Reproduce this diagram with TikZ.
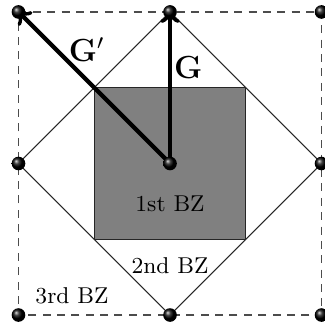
\documentclass[tikz,border=0pt]{standalone}
\usetikzlibrary{arrows}
\begin{document}
\begin{tikzpicture}[
  every node/.style={font=\fontsize{8.6}{10}\selectfont},
  site/.style={circle,inner sep=0pt,minimum size=0.18cm,shading=ball,ball color=black},
  bzline/.style={line width=0.4pt,black!85},
  dashline/.style={dashed,dash pattern=on 3pt off 2.4pt,black!70,line width=0.5pt},
  vec/.style={line width=1.6pt,->,>=to}
]
\useasboundingbox (-2.244,-2.158) rectangle (2.033,2.158);
\coordinate (O) at (0,0);
\fill[gray] (-1,-1) rectangle (1,1);
\draw[bzline] (-1,-1) rectangle (1,1);
\coordinate (T) at (0,2);
\coordinate (B) at (0,-2);
\coordinate (L) at (-2,0);
\coordinate (R) at (2,0);
\coordinate (TL) at (-2,2);
\coordinate (TR) at (2,2);
\coordinate (BL) at (-2,-2);
\coordinate (BR) at (2,-2);
\draw[bzline] (T) -- (R) -- (B) -- (L) -- cycle;
\draw[dashline] (TL) -- (TR) -- (BR) -- (BL) -- cycle;
\draw[vec] (O) -- (T);
\draw[vec] (O) -- (TL);
\node (nO) at (O) [site] {};
\node (nT) at (T) [site] {};
\node (nB) at (B) [site] {};
\node (nL) at (L) [site] {};
\node (nR) at (R) [site] {};
\node (nTL) at (TL) [site] {};
\node (nTR) at (TR) [site] {};
\node (nBL) at (BL) [site] {};
\node (nBR) at (BR) [site] {};
\node (g) at (0.24,1.26) {\large$\mathbf{G}$};
\node (gp) at (-1.1,1.5) {\large$\mathbf{G}'$};
\node (bz1) at (0,-0.53) {1st BZ};
\node (bz2) at (0,-1.35) {2nd BZ};
\node (bz3) at (-1.294,-1.746) {3rd BZ};
\end{tikzpicture}
\end{document}
